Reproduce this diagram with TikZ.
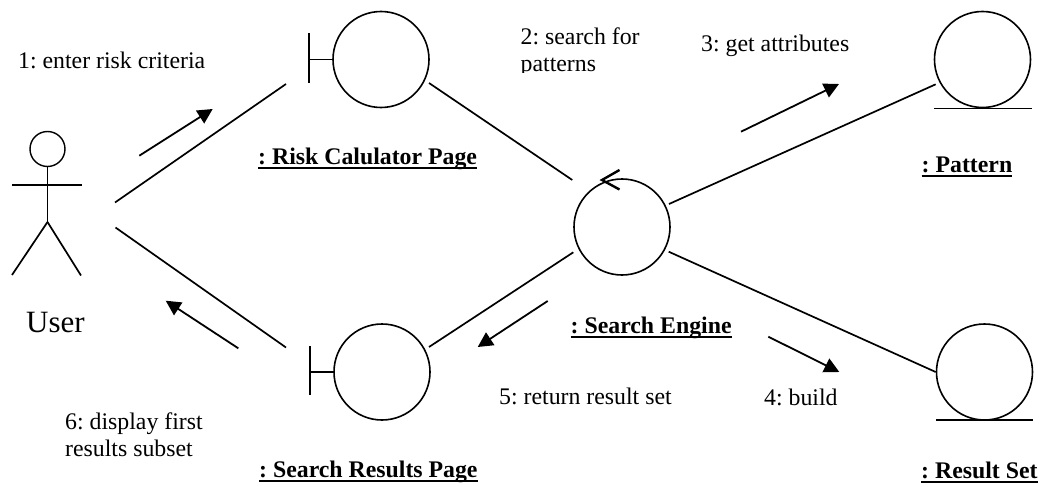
\documentclass[tikz,border=0pt]{standalone}
\usepackage{fontspec}
\setmainfont{Liberation Serif}
\usetikzlibrary{arrows.meta}
\frenchspacing
\newcommand\ruledtitle[1]{\setbox0=\hbox{#1}\rlap{\rule[-4.6pt]{\wd0}{1.7pt}}\box0 }
\tikzset{
 obj/.style={circle,draw,line width=1.6pt,minimum size=96pt,inner sep=0pt},
 lnk/.style={line width=1.7pt},
 msg/.style={line width=1.8pt,-{Triangle[length=15pt,width=15pt]}},
 lbl/.style={font=\fontsize{23.8pt}{27pt}\selectfont,inner sep=0pt,align=left,anchor=base west},
 ttl/.style={font=\fontsize{23.8pt}{27pt}\selectfont\bfseries,inner sep=0pt,anchor=base west}
}
\begin{document}
\begin{tikzpicture}[x=1pt,y=-1pt]
\useasboundingbox (0,0) rectangle (1045,487);
% actor
\node[circle,draw,line width=1.4pt,minimum size=35pt,inner sep=0pt] (head) at (47.5,149) {};
\coordinate (hip) at (47.5,222);
\coordinate (al) at (12,185);
\coordinate (ar) at (82,185);
\coordinate (fl) at (12,275);
\coordinate (fr) at (81,275.5);
\draw[lnk] (head.south) -- (hip);
\draw[lnk] (al) -- (ar);
\draw[lnk] (hip) -- (fl);
\draw[lnk] (hip) -- (fr);
\node[font=\fontsize{31pt}{34pt}\selectfont,inner sep=0pt,anchor=base west] (user) at (26,332.5) {User};
% objects
\node[obj] (risk) at (381,59.5) {};
\coordinate (r1) at (309,33);
\coordinate (r2) at (309,83);
\coordinate (r0) at (309,59.5);
\draw[lnk] (r1) -- (r2);
\draw[lnk] (r0) -- (risk.west);
\node[obj] (res) at (382,372) {};
\coordinate (s1) at (310,346);
\coordinate (s2) at (310,395);
\coordinate (s0) at (310,372);
\draw[lnk] (s1) -- (s2);
\draw[lnk] (s0) -- (res.west);
\node[obj] (eng) at (622,227) {};
\coordinate (c1) at (619.5,170);
\coordinate (c2) at (602,180);
\coordinate (c3) at (619.5,189.5);
\draw[line width=2.4pt] (c1) -- (c2) -- (c3);
\node[obj] (pat) at (982.5,59.5) {};
\coordinate (p1) at (934,108.5);
\coordinate (p2) at (1032,108.5);
\draw[lnk] (p1) -- (p2);
\node[obj] (set) at (984.5,372) {};
\coordinate (q1) at (936,420);
\coordinate (q2) at (1033,420);
\draw[lnk] (q1) -- (q2);
% links
\coordinate (u1) at (115,202.5);
\coordinate (u2) at (115.5,227.5);
\coordinate (k1) at (286,84);
\coordinate (k2) at (286,347.5);
\draw[lnk] (u1) -- (k1);
\draw[lnk] (u2) -- (k2);
\draw[lnk] ([shift={(48,23.5)}]risk.center) -- ([shift={(-49.7,-47)}]eng.center);
\draw[lnk] ([shift={(-48.7,25.3)}]eng.center) -- ([shift={(47,-25)}]res.center);
\draw[lnk] ([shift={(47,-23)}]eng.center) -- ([shift={(-46.8,24.8)}]pat.center);
\draw[lnk] ([shift={(46.7,24.7)}]eng.center) -- (set.west);
% message arrows
\coordinate (a1s) at (139.3,155.7); \coordinate (a1e) at (212.7,109);
\coordinate (a3s) at (741,131.7); \coordinate (a3e) at (839,84);
\coordinate (a4s) at (768.3,336.7); \coordinate (a4e) at (839.3,372);
\coordinate (a5s) at (547.7,301); \coordinate (a5e) at (477.7,347);
\coordinate (a6s) at (238.3,348.3); \coordinate (a6e) at (165.7,300.7);
\draw[msg] (a1s) -- (a1e);
\draw[msg] (a3s) -- (a3e);
\draw[msg] (a4s) -- (a4e);
\draw[msg] (a5s) -- (a5e);
\draw[msg] (a6s) -- (a6e);
% labels
\node[lbl] (l1) at (18,69) {1: enter risk criteria};
\begin{scope}
\clip (500,0) rectangle (700,72.5);
\node[lbl] (l2) at (520.5,72) {2: search for\\patterns};
\end{scope}
\node[lbl] (l3) at (701,51.5) {3: get attributes};
\node[lbl] (l4) at (764,405) {4: build};
\node[lbl] (l5) at (499,404) {5: return result set};
\node[lbl] (l6) at (65,456) {6: display first\\results subset};
\node[ttl] (t1) at (258,164) {\ruledtitle{: Risk Calulator Page}};
\node[ttl] (t2) at (259,477) {\ruledtitle{: Search Results Page}};
\node[ttl] (t3) at (570.5,333) {\ruledtitle{: Search Engine}};
\node[ttl] (t4) at (921.5,172.5) {\ruledtitle{: Pattern}};
\node[ttl] (t5) at (921,478.5) {\ruledtitle{: Result Set}};
\end{tikzpicture}
\end{document}
